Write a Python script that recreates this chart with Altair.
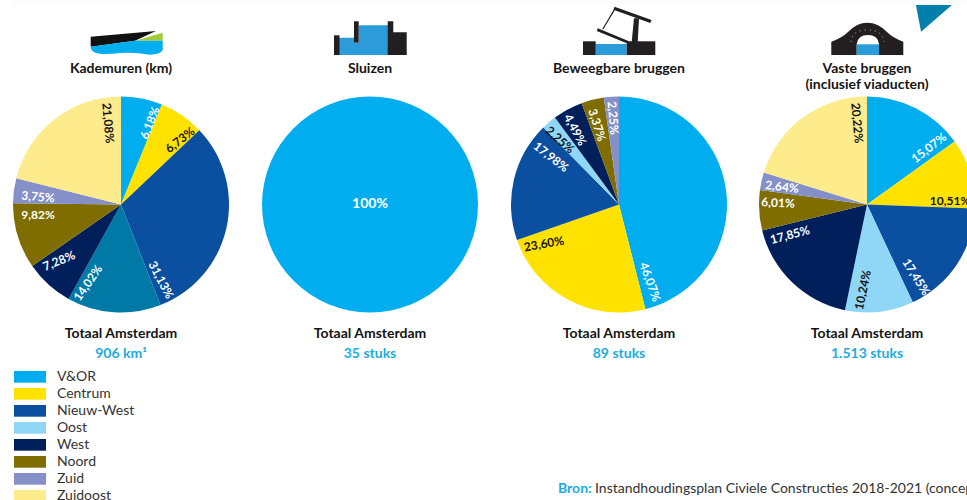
import altair as alt
import pandas as pd

W, H = 967, 500
RADIUS = 108
FONT = "Lato"

DISTRICTS = ["V&OR", "Centrum", "Nieuw-West", "Oost", "West", "Noord", "Zuid", "Zuidoost"]
DISTRICT_COLOURS = ["#00aeef", "#ffe200", "#0b4fa0", "#8fd6f7", "#001f5b", "#7f6d00", "#8590c8", "#fdeb8c"]
TEAL = "#0079a6"
INK = "#141414"
BLUE_TEXT = "#1badde"
WATER = "#2b9cd9"

# Kademuren
quay_values = [6.18, 6.73, 31.13, 14.02, 7.28, 9.82, 3.75, 21.08]
quay_labels = ["6,18%", "6,73%", "31,13%", "14,02%", "7,28%", "9,82%", "3,75%", "21,08%"]
quay_colours = ["#00aeef", "#ffe200", "#0b4fa0", TEAL, "#001f5b", "#7f6d00", "#8590c8", "#fdeb8c"]
quay_text_colours = ["white", INK, "white", "white", "white", "white", "white", INK]
quay_label_x = [150, 180, 161, 88, 59, 38, 38, 108]
quay_label_y = [123, 140, 280, 283, 261, 215, 197, 123]
quay_label_angle = [-68, -38, 62, -55, -22, 0, 5, 85]

# Sluizen
lock_values = [100]
lock_labels = ["100%"]
lock_colours = ["#00aeef"]
lock_text_colours = ["white"]
lock_label_x = [370]
lock_label_y = [204]
lock_label_angle = [0]

# Beweegbare bruggen
move_values = [46.07, 23.60, 17.98, 2.25, 4.49, 3.37, 2.25]
move_labels = ["46,07%", "23,60%", "17,98%", "2,25%", "4,49%", "3,37%", "2,25%"]
move_colours = ["#00aeef", "#ffe200", "#0b4fa0", "#8fd6f7", "#001f5b", "#7f6d00", "#8590c8"]
move_text_colours = ["white", INK, "white", INK, "white", "white", "white"]
move_label_x = [650, 544, 551, 560, 575, 597, 613]
move_label_y = [282, 244, 157, 140, 130, 125, 118]
move_label_angle = [70, -10, 38, 42, 62, 72, 85]

# Vaste bruggen
fixed_values = [15.07, 10.51, 17.45, 10.24, 17.85, 6.01, 2.64, 20.22]
fixed_labels = ["15,07%", "10,51%", "17,45%", "10,24%", "17,85%", "6,01%", "2,64%", "20,22%"]
fixed_colours = DISTRICT_COLOURS
fixed_text_colours = ["white", INK, "white", INK, "white", "white", "white", INK]
fixed_label_x = [929, 950, 916, 863, 790, 778, 782, 857]
fixed_label_y = [148, 201, 277, 290, 235, 203, 187, 123]
fixed_label_angle = [-38, 0, 58, -78, -15, 3, 7, 85]

pie_centres_x = [121, 370, 619, 867]
pie_centre_y = 204.5

title_lines = [
    ("Kademuren (km)", 121, 68.5),
    ("Sluizen", 370, 68.5),
    ("Beweegbare bruggen", 619, 68.5),
    ("Vaste bruggen", 867, 68.5),
    ("(inclusief viaducten)", 867, 84.5),
    ("Totaal Amsterdam", 121, 334),
    ("Totaal Amsterdam", 370, 334),
    ("Totaal Amsterdam", 619, 334),
    ("Totaal Amsterdam", 867, 334),
]
total_lines = [("906 km¹", 121, 354), ("35 stuks", 370, 354), ("89 stuks", 619, 354), ("1.513 stuks", 867, 354)]

legend_top = [371, 388, 405, 422, 439, 456, 473, 490]

# Icon outlines, written in page pixels
ICONS = [
    ("#111111", "M90.7,36.7 L156,31 L135,40.7 L90.7,46.7 Z"),
    ("#a4c93a", "M162.7,32.7 L162.7,40.7 L135,40.7 Z"),
    ("#00aeef", "M90.7,46.7 L135,40.7 L162.7,40.7 L162.7,50 Q161,54 150,54.7 Q135,52 120,53 Q100,55.5 94,52 Q90.7,50 90.7,47 Z"),
    (WATER, "M339,37.7 L354,37.7 L354,42.7 L358.7,42.7 L358.7,25.3 L388,25.3 L388,55 L339,55 Z"),
    ("#231f20", "M334,35.3 L339.5,35.3 L339.5,55 L334,55 Z"),
    ("#231f20", "M354,21.3 L358.7,21.3 L358.7,42.7 L354,42.7 Z"),
    ("#231f20", "M387.7,21.3 L393.3,21.3 L393.3,32.3 L406.7,32.3 L406.7,55 L387.7,55 Z"),
    (WATER, "M595.7,44 L626.7,44 L626.7,55 L595.7,55 Z"),
    ("#231f20", "M583,41.3 L595.7,41.3 L595.7,55 L583,55 Z"),
    ("#231f20", "M626.7,41.3 L655.3,41.3 L655.3,55 L626.7,55 Z"),
    ("#231f20", "M631.7,42 L634,18.3 L639,18.3 L637.7,42 Z"),
    ("#231f20", "M614.5,6.8 L651.5,20 L650.3,23 L613.4,9.7 Z"),
    ("#231f20", "M597.8,28.3 L629,41.2 L628,43.8 L596.8,31 Z"),
    ("#231f20", "M613.8,9.6 L614.8,10.2 L603.2,29.6 L602.2,29 Z"),
    ("#231f20", "M831.3,55 L831.3,41.7 Q842,38 848,32 Q857,22.7 867.3,22.7 Q878,22.7 887,32 Q893,38 903.3,41.7 L903.3,55 Z"),
    ("white", "M856.7,55 L856.7,44 Q858,35 867.8,35 Q878,35 879,44 L879,55 Z"),
    (WATER, "M856.7,44.3 L879,44.3 L879,55 L856.7,55 Z"),
    ("#0080ab", "M915,0 L957.7,0 L921,31.7 Z"),
    ("#fbfcfc", "M14,0 L967,0 L967,5 L14,5 Z"),
]
BRIDGE_DOTS = "M851,42 Q852,30 867.5,30 Q883,30 884,42"


def pie(values, colours, centre_x):
    frame = pd.DataFrame({"value": values, "colour": colours, "order": range(len(values))})
    return alt.Chart(frame).mark_arc(radius=RADIUS, clip=True, strokeWidth=0).encode(
        x=alt.value(centre_x),
        y=alt.value(pie_centre_y),
        theta=alt.Theta("value:Q", stack=True),
        order=alt.Order("order:Q"),
        color=alt.Color("colour:N", scale=None),
    )


def pie_labels(labels, xs, ys, angles, colours, size=12):
    frame = pd.DataFrame({"label": labels, "x": xs, "y": ys, "angle": angles, "ink": colours})
    layers = []
    for angle, part in frame.groupby("angle", sort=False):
        layers.append(
            alt.Chart(part).mark_text(
                font=FONT, fontSize=size, fontWeight="bold", align="center",
                baseline="middle", angle=(angle + 360) % 360, clip=True,
            ).encode(
                x=alt.X("x:Q", scale=None, axis=None),
                y=alt.Y("y:Q", scale=None, axis=None),
                text="label:N",
                color=alt.Color("ink:N", scale=None),
            )
        )
    return layers


def text_layer(rows, **style):
    frame = pd.DataFrame(rows, columns=["label", "x", "y"])
    return alt.Chart(frame).mark_text(font=FONT, **style).encode(
        x=alt.X("x:Q", scale=None, axis=None),
        y=alt.Y("y:Q", scale=None, axis=None),
        text="label:N",
    )


icon_layers = [
    alt.Chart(pd.DataFrame({"name": ["icon"]})).mark_point(
        shape=path, size=4, filled=True, fill=fill, strokeWidth=0, opacity=1
    ).encode(x=alt.value(0), y=alt.value(0))
    for fill, path in ICONS
]
icon_layers.append(
    alt.Chart(pd.DataFrame({"name": ["dots"]})).mark_point(
        shape=BRIDGE_DOTS, size=4, filled=False, stroke="white", strokeWidth=0.7,
        strokeDash=[1, 4], opacity=1,
    ).encode(x=alt.value(0), y=alt.value(0))
)

legend_frame = pd.DataFrame({"label": DISTRICTS, "colour": DISTRICT_COLOURS, "top": legend_top})
legend_frame["bottom"] = legend_frame["top"] + 11.7
legend_frame["mid"] = legend_frame["top"] + 5.8
legend_frame["x0"] = 14
legend_frame["x1"] = 46
legend_frame["tx"] = 57

swatches = alt.Chart(legend_frame).mark_rect(clip=True).encode(
    x=alt.X("x0:Q", scale=None, axis=None),
    x2="x1:Q",
    y=alt.Y("top:Q", scale=None, axis=None),
    y2="bottom:Q",
    color=alt.Color("colour:N", scale=None),
)
legend_text = alt.Chart(legend_frame).mark_text(
    font=FONT, fontSize=14, align="left", baseline="middle", color="#333333"
).encode(
    x=alt.X("tx:Q", scale=None, axis=None),
    y=alt.Y("mid:Q", scale=None, axis=None),
    text="label:N",
)

layers = icon_layers + [
    pie(quay_values, quay_colours, pie_centres_x[0]),
    pie(lock_values, lock_colours, pie_centres_x[1]),
    pie(move_values, move_colours, pie_centres_x[2]),
    pie(fixed_values, fixed_colours, pie_centres_x[3]),
]
layers += pie_labels(quay_labels, quay_label_x, quay_label_y, quay_label_angle, quay_text_colours)
layers += pie_labels(lock_labels, lock_label_x, lock_label_y, lock_label_angle, lock_text_colours, size=14)
layers += pie_labels(move_labels, move_label_x, move_label_y, move_label_angle, move_text_colours)
layers += pie_labels(fixed_labels, fixed_label_x, fixed_label_y, fixed_label_angle, fixed_text_colours)
layers += [
    text_layer(title_lines, fontSize=14, fontWeight="bold", align="center", baseline="middle", color=INK),
    text_layer(total_lines, fontSize=14, fontWeight="bold", align="center", baseline="middle", color=BLUE_TEXT),
    swatches,
    legend_text,
    text_layer([("Bron:", 558, 489)], fontSize=14, fontWeight="bold", align="left", baseline="middle", color=BLUE_TEXT),
    text_layer(
        [("Instandhoudingsplan Civiele Constructies 2018-2021 (concept)", 595, 489)],
        fontSize=14, align="left", baseline="middle", color="#333333",
    ),
]

chart = (
    alt.layer(*layers)
    .resolve_scale(theta="independent")
    .properties(width=W, height=H, padding=0, autosize=alt.AutoSizeParams(type="none"), background="white")
    .configure_view(strokeWidth=0)
)

chart.save("out.html", embed_options={"renderer": "svg", "actions": False})
